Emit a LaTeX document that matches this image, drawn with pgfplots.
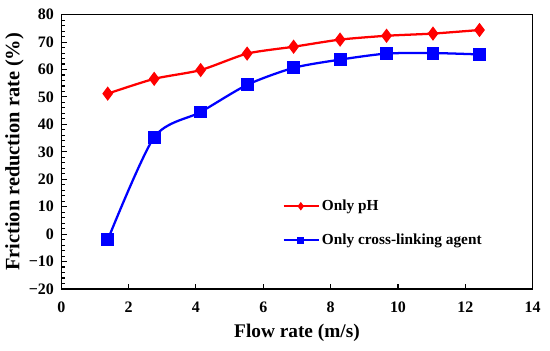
\documentclass[border=0pt]{standalone}
\usepackage{fontspec}
\setmainfont{Liberation Serif}
\usepackage{pgfplots}
\pgfplotsset{compat=1.18}
\begin{document}
\begin{tikzpicture}
\begin{axis}[
  scale only axis,
  width=354pt, height=206pt,
  xmin=0, xmax=14, ymin=-20, ymax=80,
  xtick={0,2,...,14},
  ytick={-20,-10,...,80},
  yticklabels={−20,−10,0,10,20,30,40,50,60,70,80},
  minor y tick num=4,
  tick pos=left,
  tick align=inside,
  major tick length=4pt,
  minor tick length=2.5pt,
  every tick/.style={black, line width=0.8pt},
  axis line style={line width=0.9pt},
  /pgf/number format/assume math mode=true,
  ticklabel style={font=\fontsize{12}{14}\selectfont\bfseries},
  xticklabel style={yshift=-6pt},
  yticklabel style={xshift=-2pt},
  xlabel={Flow rate (m/s)},
  ylabel={Friction reduction rate (\%)},
  label style={font=\fontsize{14.5}{17}\selectfont\bfseries},
  ylabel style={yshift=-3pt, font=\fontsize{15.3}{17}\selectfont\bfseries},
  xlabel style={yshift=-2pt},
  legend style={draw=none, fill=none, at={(0.46,0.345)}, anchor=north west,
    font=\fontsize{11.5}{13}\selectfont\bfseries, row sep=12pt},
  legend cell align=left,
  legend image code/.code={
    \draw[mark repeat=2,mark phase=2,#1, mark size=1.8pt] plot coordinates {(0pt,0pt) (13pt,0pt) (26pt,0pt)};
  },
]
\addplot[red, line width=1.7pt, smooth, tension=0.4, mark=diamond*, mark size=4pt,
  mark options={solid, fill=red}] coordinates {
(1.38,51.2) (2.76,56.6) (4.14,59.8) (5.52,65.8) (6.90,68.3) (8.28,70.9) (9.66,72.3) (11.04,73.1) (12.42,74.4)};
\addlegendentry{Only pH}
\addplot[blue, line width=1.7pt, smooth, tension=0.45, mark=square*, mark size=4pt,
  mark options={solid, fill=blue}] coordinates {
(1.38,-2.1) (2.76,35.3) (4.14,44.5) (5.52,54.4) (6.90,60.6) (8.28,63.6) (9.66,65.8) (11.04,66.0) (12.42,65.5)};
\addlegendentry{Only cross-linking agent}
\end{axis}
\path (current axis.south west) +(-46pt,-46pt) (current axis.north east) +(13pt,11pt);
\end{tikzpicture}
\end{document}
